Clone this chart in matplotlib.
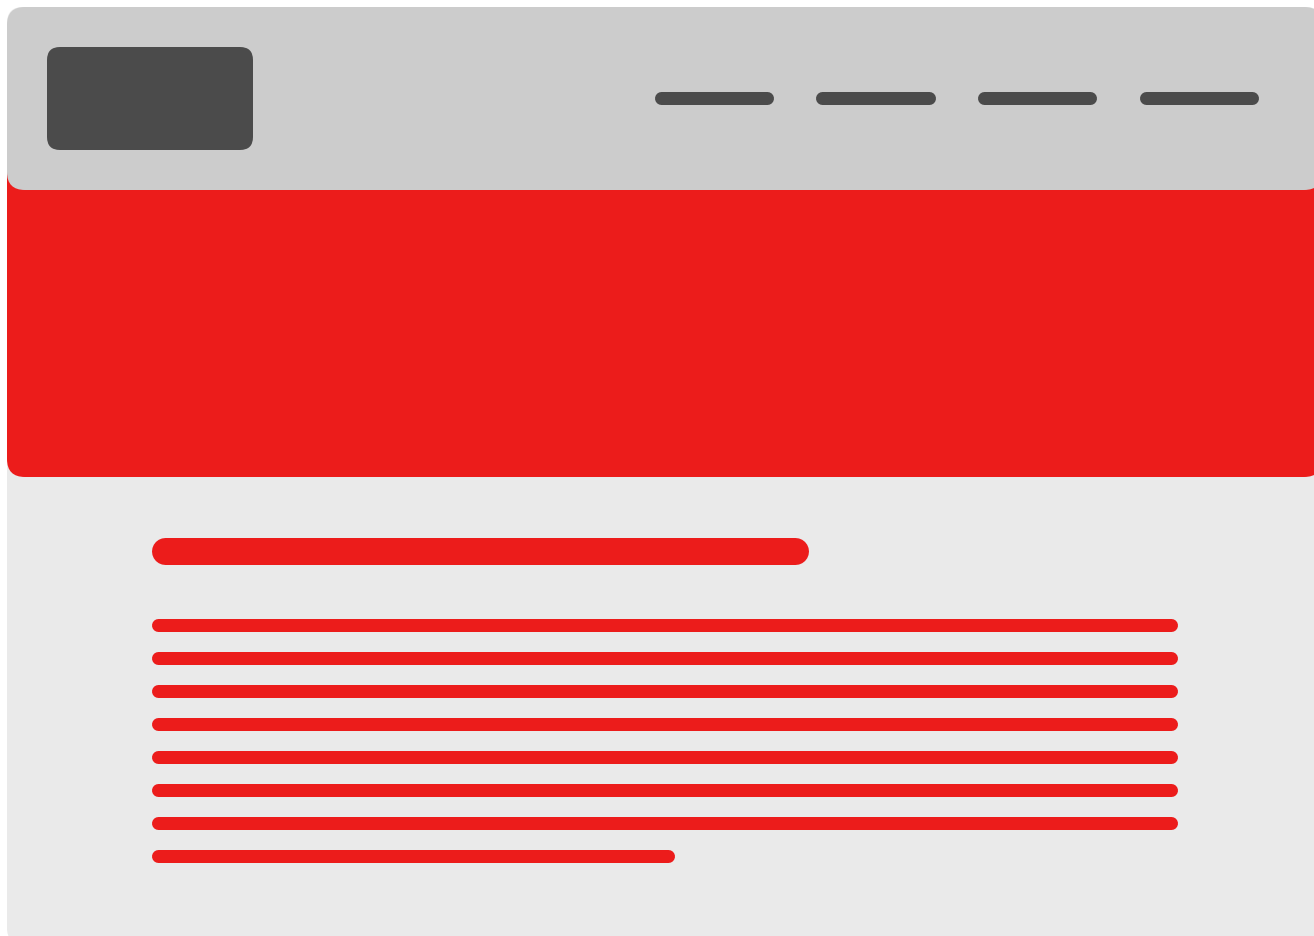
import matplotlib
matplotlib.use("Agg")
import matplotlib.pyplot as plt
from matplotlib.patches import FancyBboxPatch

# wireframe pieces, pixel coordinates (x0, x1) / (y0, y1)
nav_x = [(654, 773), (815, 935), (977, 1096), (1139, 1258)]
nav_y = 97.5
text_x = [(151, 1177)] * 7 + [(151, 674)]
text_y = [624.5, 657.5, 690.5, 723.5, 756.5, 789.5, 822.5, 855.5]
title_x = (151, 808)
title_y = (537, 564)

RED = "#EC1C1B"
HEADER = "#CCCCCC"
DARK = "#4B4B4B"
PAGE = "#EAEAEA"


def box(ax, x0, y0, x1, y1, r, color):
    p = FancyBboxPatch((x0, y0), x1 - x0, y1 - y0,
                       boxstyle=f"round,pad=0,rounding_size={r}",
                       facecolor=color, edgecolor="none", mutation_aspect=1)
    ax.add_patch(p)


def pill(ax, x0, x1, yc, h, color):
    # round-capped line, width given in pixels (dpi 100 -> 0.72 pt/px)
    ax.plot([x0 + h / 2, x1 - h / 2], [yc, yc], color=color,
            lw=h * 0.72, solid_capstyle="round")


fig = plt.figure(figsize=(13.14, 9.37), dpi=100)
ax = fig.add_axes([0, 0, 1, 1])
ax.set_xlim(0, 1314)
ax.set_ylim(936, -1)
ax.axis("off")

# page, hero, header
box(ax, 7, 7, 1322, 944, 16, PAGE)
box(ax, 7, 150, 1322, 477, 18, RED)
box(ax, 7, 7, 1322, 190, 18, HEADER)

# logo
box(ax, 47, 47, 253, 150, 13, DARK)

# nav items
for x0, x1 in nav_x:
    pill(ax, x0, x1, nav_y, 13, DARK)

# title and text lines
pill(ax, title_x[0], title_x[1], (title_y[0] + title_y[1]) / 2,
     title_y[1] - title_y[0], RED)
for (x0, x1), yc in zip(text_x, text_y):
    pill(ax, x0, x1, yc, 13, RED)

fig.savefig("out.png", dpi=100, facecolor="white")
